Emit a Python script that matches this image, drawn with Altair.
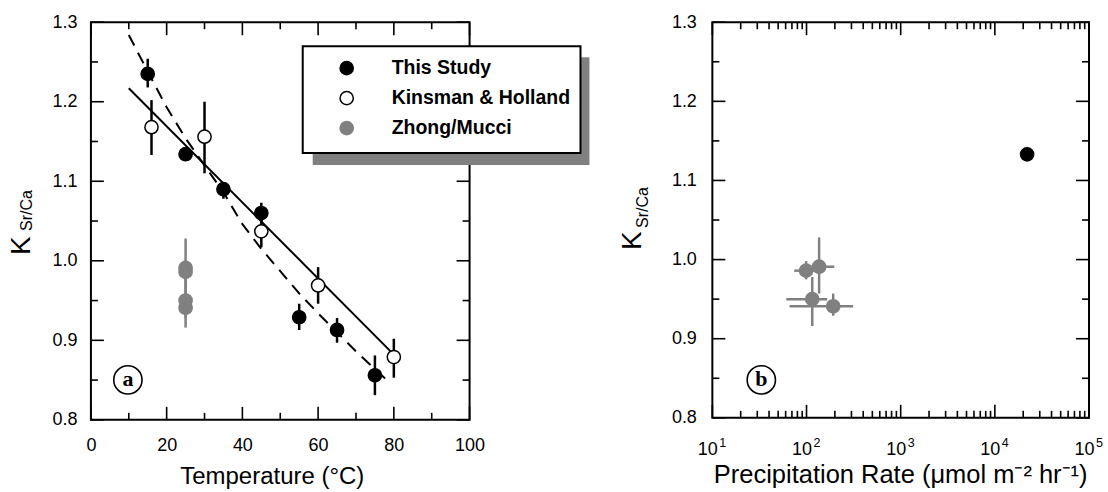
import altair as alt
import pandas as pd

# ---------------- data ----------------
# Panel a: K_Sr/Ca vs temperature
this_T = [15, 25, 35, 45, 55, 65, 75]
this_K = [1.235, 1.134, 1.090, 1.060, 0.929, 0.913, 0.856]
this_lo = [1.218, 1.128, 1.078, 1.047, 0.913, 0.897, 0.831]
this_hi = [1.254, 1.140, 1.099, 1.073, 0.946, 0.928, 0.881]

kh_T = [16, 30, 45, 60, 80]
kh_K = [1.168, 1.156, 1.037, 0.969, 0.879]
kh_lo = [1.133, 1.110, 1.017, 0.946, 0.853]
kh_hi = [1.202, 1.200, 1.055, 0.992, 0.902]

zm_T = [25, 25, 25, 25]
zm_K = [0.986, 0.991, 0.950, 0.941]
zm_lo = [0.975, 0.957, 0.916, 0.929]
zm_hi = [0.998, 1.028, 0.978, 0.957]

# solid regression line (end points)
fit_T = [10, 80]
fit_K = [1.217, 0.882]

# dashed curve
dash_T = [10, 15, 20, 25, 30, 35, 40, 45, 50, 55, 60, 65, 70, 75, 79]
dash_K = [1.284, 1.238, 1.193, 1.154, 1.120, 1.086, 1.046, 1.015, 0.987,
          0.959, 0.934, 0.910, 0.886, 0.864, 0.846]

# Panel b: K_Sr/Ca vs precipitation rate
zm_rate = [99, 136, 115, 192]
zm_rate_lo = [74, 95, 61, 66]
zm_rate_hi = [130, 197, 166, 313]
this_rate = [22000]
this_rate_K = [1.133]

# axes
xa_major = [0, 20, 40, 60, 80, 100]
xa_minor = [10, 30, 50, 70, 90]
y_major = [0.8, 0.9, 1.0, 1.1, 1.2, 1.3]
y_minor = [0.85, 0.95, 1.05, 1.15, 1.25]
xb_major = [10, 100, 1000, 10000, 100000]
xb_minor = [m * d for d in [10, 100, 1000, 10000] for m in range(2, 10)]
xb_base = ["10", "10", "10", "10", "10"]
xb_exp = ["1", "2", "3", "4", "5"]

legend_names = ["This Study", "Kinsman & Holland", "Zhong/Mucci"]
legend_fill = ["black", "white", "#808080"]
legend_stroke = ["black", "black", "#808080"]

FONT = "Liberation Sans"
GRAY = "#808080"
WA, HA = 379, 398
WB, HB = 377, 396

df_this = pd.DataFrame({"x": this_T, "y": this_K, "lo": this_lo, "hi": this_hi})
df_kh = pd.DataFrame({"x": kh_T, "y": kh_K, "lo": kh_lo, "hi": kh_hi})
df_zm = pd.DataFrame({"x": zm_T, "y": zm_K, "lo": zm_lo, "hi": zm_hi})
df_fit = pd.DataFrame({"x": fit_T, "y": fit_K})
df_dash = pd.DataFrame({"x": dash_T, "y": dash_K})
df_zmb = pd.DataFrame({"x": zm_rate, "xlo": zm_rate_lo, "xhi": zm_rate_hi,
                       "y": zm_K, "lo": zm_lo, "hi": zm_hi})
df_thb = pd.DataFrame({"x": this_rate, "y": this_rate_K})
df_xbl = pd.DataFrame({"v": xb_major, "base": xb_base, "exp": xb_exp})
one = pd.DataFrame({"t": [""]})

sx_a = alt.Scale(domain=[0, 100], nice=False, zero=False)
sy = alt.Scale(domain=[0.8, 1.3], nice=False, zero=False)
sx_b = alt.Scale(type="log", domain=[10, 100000], nice=False)

xa_axis = alt.Axis(values=xa_major, title="Temperature (\u00b0C)", ticks=False, domain=False,
                   grid=False, labelFont=FONT, labelFontSize=18, labelPadding=17,
                   labelFlush=False, labelOverlap=False, titleFont=FONT, titleFontSize=24,
                   titleFontWeight="normal", titlePadding=10, titleColor="black",
                   labelColor="black", titleX=181, titleAlign="center")
y_axis = alt.Axis(values=y_major, format=".1f", title=None, ticks=False, domain=False,
                  grid=False, labelFont=FONT, labelFontSize=18, labelPadding=14,
                  labelFlush=False, labelOverlap=False, labelColor="black")
xb_axis = alt.Axis(values=xb_major, labels=False,
                   title="Precipitation Rate (\u03bcmol m\u207b\u00b2 hr\u207b\u00b9)",
                   ticks=False, domain=False, grid=False, titleFont=FONT,
                   titleFontSize=25.5, titleFontWeight="normal", titlePadding=45,
                   titleColor="black", titleX=188, titleAlign="center")
yb_axis = alt.Axis(values=y_major, format=".1f", title=None, ticks=False, domain=False,
                   grid=False, labelFont=FONT, labelFontSize=18, labelPadding=16,
                   labelFlush=False, labelOverlap=False, labelColor="black")

MAJ, MIN = 13, 7


def X(field, scale, axis):
    return alt.X(field, scale=scale, axis=axis, title=axis.title)


def Y(field, axis):
    return alt.Y(field, scale=sy, axis=axis, title=None)


def x_ticks(vals, scale, axis, ln, H):
    d = pd.DataFrame({"v": vals})
    b = alt.Chart(d).mark_rule(color="black", strokeWidth=1.6)
    return [
        b.encode(x=X("v:Q", scale, axis), y=alt.value(H), y2=alt.value(H - ln)),
        b.encode(x=X("v:Q", scale, axis), y=alt.value(0), y2=alt.value(ln)),
    ]


def y_ticks(vals, axis, ln, W):
    d = pd.DataFrame({"v": vals})
    b = alt.Chart(d).mark_rule(color="black", strokeWidth=1.6)
    return [
        b.encode(y=Y("v:Q", axis), x=alt.value(0), x2=alt.value(ln)),
        b.encode(y=Y("v:Q", axis), x=alt.value(W), x2=alt.value(W - ln)),
    ]


def ylabel(xk, yk, xs, ys):
    k = alt.Chart(one).mark_text(text="K", font=FONT, fontSize=28, angle=270,
                                 align="left", baseline="alphabetic").encode(
        x=alt.value(xk), y=alt.value(yk))
    s = alt.Chart(one).mark_text(text="Sr/Ca", font=FONT, fontSize=16, angle=270,
                                 align="left", baseline="alphabetic").encode(
        x=alt.value(xs), y=alt.value(ys))
    return [k, s]


def panel_tag(letter, cx, cy):
    c = alt.Chart(one).mark_point(shape="circle", size=800, filled=False,
                                  color="black", strokeWidth=1.6, opacity=1).encode(
        x=alt.value(cx), y=alt.value(cy))
    t = alt.Chart(one).mark_text(text=letter, font="Liberation Serif", fontWeight="bold",
                                 fontSize=22, align="center", baseline="middle").encode(
        x=alt.value(cx), y=alt.value(cy - 1))
    return [c, t]


def frame(W, H):
    return alt.Chart(one).mark_rect(fill=None, stroke="black", strokeWidth=2).encode(
        x=alt.value(0), x2=alt.value(W), y=alt.value(0), y2=alt.value(H))


def errs(df, color, scale, axis, yax):
    return alt.Chart(df).mark_rule(color=color, strokeWidth=2.5).encode(
        x=X("x:Q", scale, axis), y=Y("lo:Q", yax), y2="hi:Q")


def pts(df, fill, stroke, scale, axis, yax):
    return alt.Chart(df).mark_point(shape="circle", size=175, filled=True, fill=fill,
                                    stroke=stroke, strokeWidth=1.5, opacity=1).encode(
        x=X("x:Q", scale, axis), y=Y("y:Q", yax))


# ---------------- panel a ----------------
line_fit = alt.Chart(df_fit).mark_line(color="black", strokeWidth=2).encode(
    x=X("x:Q", sx_a, xa_axis), y=Y("y:Q", y_axis))
line_dash = alt.Chart(df_dash).mark_line(color="black", strokeWidth=2, strokeDash=[12, 8]).encode(
    x=X("x:Q", sx_a, xa_axis), y=Y("y:Q", y_axis))

legend_layers = [
    alt.Chart(one).mark_rect(color=GRAY).encode(
        x=alt.value(222), x2=alt.value(499), y=alt.value(35), y2=alt.value(143)),
    alt.Chart(one).mark_rect(fill="white", stroke="black", strokeWidth=2).encode(
        x=alt.value(212), x2=alt.value(490), y=alt.value(24), y2=alt.value(131)),
]
for i, (nm, f, s) in enumerate(zip(legend_names, legend_fill, legend_stroke)):
    yy = 46 + 30 * i
    legend_layers.append(
        alt.Chart(one).mark_point(shape="circle", size=175, filled=True, fill=f, stroke=s,
                                  strokeWidth=1.5, opacity=1).encode(
            x=alt.value(256), y=alt.value(yy)))
    legend_layers.append(
        alt.Chart(one).mark_text(text=nm, font=FONT, fontSize=19.5, fontWeight="bold",
                                 align="left", baseline="middle", color="black").encode(
            x=alt.value(301), y=alt.value(yy)))

panel_a = alt.layer(
    line_fit, line_dash,
    errs(df_this, "black", sx_a, xa_axis, y_axis), errs(df_kh, "black", sx_a, xa_axis, y_axis),
    errs(df_zm, GRAY, sx_a, xa_axis, y_axis),
    pts(df_zm, GRAY, GRAY, sx_a, xa_axis, y_axis), pts(df_this, "black", "black", sx_a, xa_axis, y_axis),
    pts(df_kh, "white", "black", sx_a, xa_axis, y_axis),
    *x_ticks(xa_major, sx_a, xa_axis, MAJ, HA), *x_ticks(xa_minor, sx_a, xa_axis, MIN, HA),
    *y_ticks(y_major, y_axis, MAJ, WA), *y_ticks(y_minor, y_axis, MIN, WA),
    frame(WA, HA),
    *panel_tag("a", 37, 358),
    *ylabel(-61, 233, -59, 209),
    *legend_layers,
).properties(width=WA, height=HA)

# ---------------- panel b ----------------
xerr_b = alt.Chart(df_zmb).mark_rule(color=GRAY, strokeWidth=2.5).encode(
    x=X("xlo:Q", sx_b, xb_axis), x2="xhi:Q", y=Y("y:Q", yb_axis))
yerr_b = errs(df_zmb, GRAY, sx_b, xb_axis, yb_axis)

xb_base_lbl = alt.Chart(df_xbl).mark_text(font=FONT, fontSize=18, align="center",
                                          baseline="alphabetic", dx=-4.5, color="black").encode(
    x=X("v:Q", sx_b, xb_axis), y=alt.value(HB + 37), text="base:N")
xb_exp_lbl = alt.Chart(df_xbl).mark_text(font=FONT, fontSize=12.5, align="left",
                                         baseline="alphabetic", dx=7, color="black").encode(
    x=X("v:Q", sx_b, xb_axis), y=alt.value(HB + 29), text="exp:N")

panel_b = alt.layer(
    xerr_b, yerr_b,
    pts(df_zmb, GRAY, GRAY, sx_b, xb_axis, yb_axis), pts(df_thb, "black", "black", sx_b, xb_axis, yb_axis),
    *x_ticks(xb_major, sx_b, xb_axis, MAJ, HB), *x_ticks(xb_minor, sx_b, xb_axis, MIN, HB),
    *y_ticks(y_major, yb_axis, MAJ, WB), *y_ticks(y_minor, yb_axis, MIN, WB),
    frame(WB, HB),
    xb_base_lbl, xb_exp_lbl,
    *panel_tag("b", 49, 358),
    *ylabel(-71, 228, -64, 206),
).properties(width=WB, height=HB)

chart = alt.hconcat(panel_a, panel_b, spacing=243, bounds="flush").properties(
    padding={"left": 8, "top": 13, "right": 5, "bottom": 5}, background="white"
).configure_view(strokeWidth=0)

chart.save("out.html", embed_options={"renderer": "svg", "actions": False})
